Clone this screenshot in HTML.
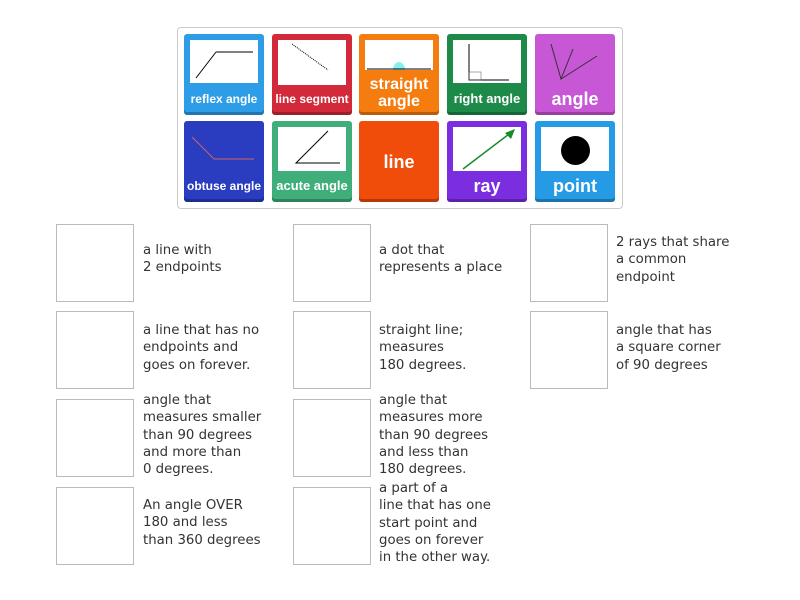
<!DOCTYPE html>
<html><head><style>
body{margin:0;width:800px;height:600px;background:#fff;font-family:"Liberation Sans",sans-serif;position:relative;overflow:hidden}
.wrap{position:absolute;left:177px;top:27px;width:444px;height:180px;border:1px solid #ccc;border-radius:4px;background:#fff}
.t{position:absolute;width:80px;height:81px;border-radius:3px;box-shadow:inset 0 -3px 0 rgba(0,0,0,.25);color:#fff;font-weight:bold;text-align:center}
.t .im{position:absolute;left:6px;top:6px;width:68px;height:43px;background:#fff}
.t .lb{position:absolute;left:0;right:0;bottom:8px;font-size:12px;line-height:16px}
.t .big{font-size:18px}
.b{position:absolute;width:76px;height:76px;border:1px solid #bbb}
.x{position:absolute;font-family:"DejaVu Sans",sans-serif;font-size:13.3px;line-height:17.3px;color:#333}
</style></head><body>
<div class="wrap"></div>
<div class="t" style="left:184px;top:34px;background:#2e9de8"><div class="im"><svg width="68" height="43"><line x1="6" y1="38" x2="26" y2="12" stroke="#000"/><line x1="26" y1="12" x2="63" y2="12" stroke="#000"/></svg></div><div class="lb">reflex angle</div></div>
<div class="t" style="left:272px;top:34px;background:#d22a3a"><div class="im" style="height:45px"><svg width="68" height="45"><line x1="14" y1="4" x2="50" y2="30" stroke="#000" stroke-dasharray="1,1"/></svg></div><div class="lb">line segment</div></div>
<div class="t" style="left:359px;top:34px;background:#f57d0f"><div class="im" style="height:30px"><svg width="68" height="30"><path d="M28 30 A6 8 0 0 1 40 30Z" fill="#8ee"/><line x1="2" y1="29" x2="66" y2="29" stroke="#000"/></svg></div><div class="lb" style="line-height:17px;font-size:16px;bottom:5px">straight<br>angle</div></div>
<div class="t" style="left:447px;top:34px;background:#1e8a4a"><div class="im"><svg width="68" height="43"><path d="M16 4V40H56" stroke="#000" fill="none"/><rect x="16" y="32" width="12" height="8" fill="none" stroke="#555" stroke-width=".5"/></svg></div><div class="lb" style="font-size:13px">right angle</div></div>
<div class="t" style="left:535px;top:34px;background:#c857d6"><svg width="80" height="50" style="position:absolute;left:0;top:0"><path d="M16 10L26 45L38 15M26 45L62 22" stroke="#333" fill="none"/></svg><div class="lb big">angle</div></div>
<div class="t" style="left:184px;top:121px;background:#2a3cc0"><svg width="80" height="50" style="position:absolute;left:0;top:0"><path d="M8 16L30 38H70" stroke="#c66" fill="none"/></svg><div class="lb">obtuse angle</div></div>
<div class="t" style="left:272px;top:121px;background:#3fae7a"><div class="im" style="height:44px"><svg width="68" height="44"><path d="M50 4L18 36H62" stroke="#000" fill="none"/></svg></div><div class="lb" style="font-size:13px">acute angle</div></div>
<div class="t" style="left:359px;top:121px;background:#f04c0a"><div class="lb big" style="bottom:32px">line</div></div>
<div class="t" style="left:447px;top:121px;background:#7a2ee0"><div class="im" style="height:44px"><svg width="68" height="44"><line x1="10" y1="42" x2="60" y2="4" stroke="#1a8a2a" stroke-width="1.5"/><path d="M62 2L52 6L58 12Z" fill="#1a8a2a"/></svg></div><div class="lb big">ray</div></div>
<div class="t" style="left:535px;top:121px;background:#259ae5"><div class="im" style="height:44px"><div style="position:absolute;left:20px;top:9px;width:29px;height:29px;border-radius:50%;background:#000"></div></div><div class="lb big">point</div></div>

<div class="b" style="left:56px;top:224px"></div><div class="x" style="left:143px;top:242px">a line with<br>2 endpoints</div>
<div class="b" style="left:293px;top:224px"></div><div class="x" style="left:379px;top:242px">a dot that<br>represents a place</div>
<div class="b" style="left:530px;top:224px"></div><div class="x" style="left:616px;top:234px">2 rays that share<br>a common<br>endpoint</div>
<div class="b" style="left:56px;top:311px"></div><div class="x" style="left:143px;top:322px">a line that has no<br>endpoints and<br>goes on forever.</div>
<div class="b" style="left:293px;top:311px"></div><div class="x" style="left:379px;top:322px">straight line;<br>measures<br>180 degrees.</div>
<div class="b" style="left:530px;top:311px"></div><div class="x" style="left:616px;top:322px">angle that has<br>a square corner<br>of 90 degrees</div>
<div class="b" style="left:56px;top:399px"></div><div class="x" style="left:143px;top:392px">angle that<br>measures smaller<br>than 90 degrees<br>and more than<br>0 degrees.</div>
<div class="b" style="left:293px;top:399px"></div><div class="x" style="left:379px;top:392px">angle that<br>measures more<br>than 90 degrees<br>and less than<br>180 degrees.</div>
<div class="b" style="left:56px;top:487px"></div><div class="x" style="left:143px;top:497px">An angle OVER<br>180 and less<br>than 360 degrees</div>
<div class="b" style="left:293px;top:487px"></div><div class="x" style="left:379px;top:480px">a part of a<br>line that has one<br>start point and<br>goes on forever<br>in the other way.</div>
</body></html>
